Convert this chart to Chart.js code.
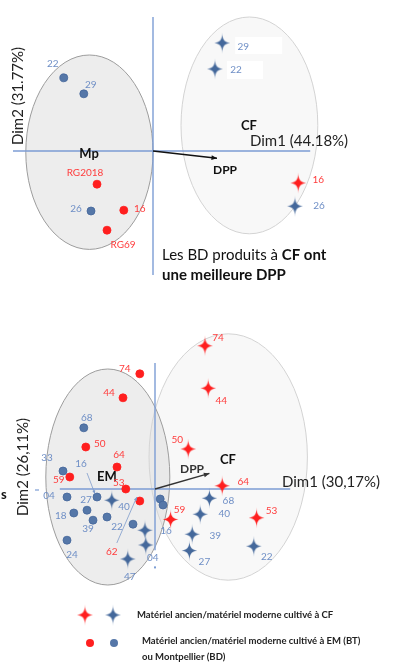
<!DOCTYPE html>
<html>
<head>
<meta charset="utf-8">
<script src="https://cdn.jsdelivr.net/npm/chart.js@4.4.1/dist/chart.umd.min.js"></script>
<style>
  html, body { margin: 0; padding: 0; background: #fff; overflow: hidden; }
  canvas { display: block; }
</style>
</head>
<body>
<canvas id="pca" width="398" height="663"></canvas>
<script>
// ---------- Upper PCA (Dim1 44.18% / Dim2 31.77%) : scores ----------
const topMpOldLabels = ['RG2018', '16', 'RG69'];
const topMpOldX = [-1.40, -0.73, -1.15];
const topMpOldY = [-0.83, -1.48, -1.98];

const topMpModernLabels = ['22', '29', '26'];
const topMpModernX = [-2.23, -1.73, -1.55];
const topMpModernY = [1.83, 1.43, -1.50];

const topCfOldLabels = ['16'];
const topCfOldX = [3.63];
const topCfOldY = [-0.80];

const topCfModernLabels = ['29', '22', '26'];
const topCfModernX = [1.73, 1.55, 3.55];
const topCfModernY = [2.70, 2.05, -1.38];

const topDppVector = [1.60, -0.18];

// ---------- Lower PCA (Dim1 30,17% / Dim2 26,11%) : scores ----------
const botEmOldLabels = ['74', '44', '50', '64', '59', '53', '62'];
const botEmOldX = [-0.38, -0.80, -1.73, -0.95, -2.13, -0.73, -0.38];
const botEmOldY = [2.88, 2.28, 1.05, 0.55, 0.30, 0.00, -0.30];

const botEmModernLabels = ['68', '33', '04', '16', '27', '18', '39', '40', '22', '24', '', ''];
const botEmModernX = [-1.78, -2.30, -2.20, -1.45, -1.70, -2.03, -1.55, -1.20, -0.55, -2.20, 0.13, 0.20];
const botEmModernY = [1.53, 0.45, -0.20, -0.20, -0.53, -0.60, -0.78, -0.70, -0.88, -1.28, -0.25, -0.40];

const botCfOldLabels = ['74', '44', '50', '64', '59', '53'];
const botCfOldX = [1.25, 1.33, 0.83, 1.68, 0.39, 2.54];
const botCfOldY = [3.58, 2.52, 1.00, 0.08, -0.76, -0.72];

const botCfModernLabels = ['', '16', '04', '47', '68', '40', '39', '27', '22'];
const botCfModernX = [-1.08, -0.25, -0.23, -0.68, 1.36, 1.13, 0.93, 0.86, 2.47];
const botCfModernY = [-0.28, -1.03, -1.40, -1.75, -0.23, -0.63, -1.13, -1.54, -1.43];

const botDppVector = [1.36, 0.39];

// Confidence ellipses per site: [centre x, centre y, radius x, radius y]
const topMpEllipse = [-1.59, -0.03, 1.59, 2.43];
const topCfEllipse = [2.41, 0.64, 1.71, 2.71];
const botEmEllipse = [-1.18, 0.30, 1.55, 2.70];
const botCfEllipse = [1.83, 0.80, 1.98, 3.08];

// ---------- styling ----------
const FONT = 'Lato, "Liberation Sans", sans-serif';
const RED = '#ff1f1f';
const RED_TEXT = '#ff3c3c';
const BLUE_STAR = '#44689b';
const BLUE_DOT = '#5577a8';
const BLUE_DOT_EDGE = '#44669a';
const BLUE_TEXT = '#6f8fc6';
const AXIS = '#7c9dd4';
const UNIT = 40; // px per score unit in both panels

// label offsets (px) relative to each marker
const topMpOldOffsets = [[-12, -11], [16, -1], [16, 15]];
const topMpModernOffsets = [[-11, -14], [7, -9], [-15, -2]];
const topCfOldOffsets = [[20, -3]];
const topCfModernOffsets = [[21, 4], [21, 1], [24, 0]];
const botEmOldOffsets = [[-15, -5], [-14, -5], [14, -3], [2, -12], [-11, 3], [-7, -6], [-28, 51]];
const botEmModernOffsets = [[3, -10], [-16, -13], [-18, -1], [-16, -33], [-1, -10], [-13, 3], [-5, 9], [17, -10], [-16, 3], [5, 15], [0, 0], [0, 0]];
const botCfOldOffsets = [[13, -8], [13, 13], [-11, -9], [21, -4], [9, -10], [15, -7]];
const botCfModernOffsets = [[0, 0], [21, 1], [7, 13], [2, 18], [19, 3], [24, 0], [23, 2], [15, 11], [13, 11]];

// leader arrows from a label to its marker: [fromDx, fromDy, toDx, toDy]
const botEmOldLeaders = { 6: [-23, 42, -3, -4] };
const botEmModernLeaders = { 3: [-10, -24, -2, -3] };
// white boxes behind some labels: [dx, dy, w, h]
const topCfModernBoxes = { 0: [13, -6, 47, 17], 1: [12, -8, 36, 18] };

function makeStar(color, r) {
  const s = Math.ceil(2 * r + 4);
  const c = document.createElement('canvas');
  c.width = s; c.height = s;
  const g = c.getContext('2d');
  g.translate(s / 2, s / 2);
  const k = r * 0.24;
  g.fillStyle = color;
  g.beginPath();
  g.moveTo(0, -r);
  g.bezierCurveTo(0, -k, k, 0, r, 0);
  g.bezierCurveTo(k, 0, 0, k, 0, r);
  g.bezierCurveTo(0, k, -k, 0, -r, 0);
  g.bezierCurveTo(-k, 0, 0, -k, 0, -r);
  g.fill();
  return c;
}
const starRed = makeStar(RED, 10.5);
const starBlue = makeStar(BLUE_STAR, 10.5);

function group(panel, kind, color, labels, xs, ys, offsets, extra) {
  const isStar = kind === 'star';
  return Object.assign({
    data: xs.map((x, i) => ({ x, y: ys[i] })),
    xAxisID: panel === 'top' ? 'xTop' : 'xBot',
    yAxisID: panel === 'top' ? 'yTop' : 'yBot',
    pointStyle: isStar ? (color === 'red' ? starRed : starBlue) : 'circle',
    pointRadius: isStar ? 10 : 4,
    backgroundColor: color === 'red' ? RED : BLUE_DOT,
    borderColor: color === 'red' ? RED : BLUE_DOT_EDGE,
    borderWidth: isStar ? 0 : 0.8,
    showLine: false,
    pointText: labels,
    textOffsets: offsets,
    textColor: color === 'red' ? RED_TEXT : BLUE_TEXT
  }, extra || {});
}

const datasets = [
  group('top', 'circle', 'red', topMpOldLabels, topMpOldX, topMpOldY, topMpOldOffsets),
  group('top', 'circle', 'blue', topMpModernLabels, topMpModernX, topMpModernY, topMpModernOffsets),
  group('top', 'star', 'red', topCfOldLabels, topCfOldX, topCfOldY, topCfOldOffsets),
  group('top', 'star', 'blue', topCfModernLabels, topCfModernX, topCfModernY, topCfModernOffsets, { boxes: topCfModernBoxes }),
  group('bot', 'star', 'blue', botCfModernLabels, botCfModernX, botCfModernY, botCfModernOffsets),
  group('bot', 'star', 'red', botCfOldLabels, botCfOldX, botCfOldY, botCfOldOffsets),
  group('bot', 'circle', 'blue', botEmModernLabels, botEmModernX, botEmModernY, botEmModernOffsets, { leaders: botEmModernLeaders }),
  group('bot', 'circle', 'red', botEmOldLabels, botEmOldX, botEmOldY, botEmOldOffsets, { leaders: botEmOldLeaders })
];

function P(chart, panel, x, y) {
  const sx = chart.scales[panel === 'top' ? 'xTop' : 'xBot'];
  const sy = chart.scales[panel === 'top' ? 'yTop' : 'yBot'];
  return [sx.getPixelForValue(x), sy.getPixelForValue(y)];
}

function ellipse(ctx, chart, panel, e, fill, stroke) {
  const [cx, cy] = P(chart, panel, e[0], e[1]);
  const [ex] = P(chart, panel, e[0] + e[2], e[1]);
  const [, ey] = P(chart, panel, e[0], e[1] + e[3]);
  ctx.beginPath();
  ctx.ellipse(cx, cy, Math.abs(ex - cx), Math.abs(cy - ey), 0, 0, Math.PI * 2);
  ctx.fillStyle = fill; ctx.fill();
  ctx.strokeStyle = stroke; ctx.lineWidth = 1; ctx.stroke();
}

function line(ctx, x1, y1, x2, y2, color, w) {
  ctx.beginPath(); ctx.moveTo(x1, y1); ctx.lineTo(x2, y2);
  ctx.strokeStyle = color; ctx.lineWidth = w; ctx.stroke();
}

function arrow(ctx, x1, y1, x2, y2, color, w, head) {
  line(ctx, x1, y1, x2, y2, color, w);
  const a = Math.atan2(y2 - y1, x2 - x1);
  ctx.beginPath();
  ctx.moveTo(x2, y2);
  ctx.lineTo(x2 - head * Math.cos(a - 0.4), y2 - head * Math.sin(a - 0.4));
  ctx.lineTo(x2 - head * Math.cos(a + 0.4), y2 - head * Math.sin(a + 0.4));
  ctx.closePath();
  ctx.fillStyle = color; ctx.fill();
}

function text(ctx, s, x, y, size, color, weight, align) {
  ctx.font = (weight || 'normal') + ' ' + size + 'px ' + FONT;
  ctx.fillStyle = color;
  ctx.textAlign = align || 'center';
  ctx.textBaseline = 'middle';
  ctx.fillText(s, x, y);
}

function vtext(ctx, s, x, y, size, color) {
  ctx.save();
  ctx.translate(x, y);
  ctx.rotate(-Math.PI / 2);
  text(ctx, s, 0, 0, size, color);
  ctx.restore();
}

const decor = {
  id: 'pcaDecor',
  beforeDatasetsDraw(chart) {
    const ctx = chart.ctx;
    ctx.save();
    // ellipses
    ellipse(ctx, chart, 'top', topCfEllipse, 'rgba(235,235,235,0.35)', '#d3d3d3');
    ellipse(ctx, chart, 'top', topMpEllipse, 'rgba(215,215,215,0.45)', '#9c9c9c');
    ellipse(ctx, chart, 'bot', botCfEllipse, 'rgba(235,235,235,0.35)', '#d3d3d3');
    ellipse(ctx, chart, 'bot', botEmEllipse, 'rgba(215,215,215,0.45)', '#9c9c9c');

    // axes of the upper panel
    let a = P(chart, 'top', -3.5, 0), b = P(chart, 'top', 3.93, 0);
    line(ctx, a[0], a[1], b[0], b[1], AXIS, 1.4);
    a = P(chart, 'top', 0, 3.35); b = P(chart, 'top', 0, -3.1);
    line(ctx, a[0], a[1], b[0], b[1], AXIS, 1.4);
    // axes of the lower panel
    a = P(chart, 'bot', -2.38, 0); b = P(chart, 'bot', 3.38, 0);
    line(ctx, a[0], a[1], b[0], b[1], AXIS, 1.4);
    a = P(chart, 'bot', 0, 3.15); b = P(chart, 'bot', 0, -1.53);
    line(ctx, a[0], a[1], b[0], b[1], AXIS, 1.4);
    a = P(chart, 'bot', 0, -1.96);
    ctx.fillStyle = AXIS; ctx.fillRect(a[0] - 1, a[1] - 1, 2, 2);
    line(ctx, 35, 490, 39, 490, AXIS, 1.2);

    // DPP vectors
    a = P(chart, 'top', 0, 0); b = P(chart, 'top', topDppVector[0], topDppVector[1]);
    arrow(ctx, a[0], a[1], b[0], b[1], '#111', 1.5, 6);
    a = P(chart, 'bot', 0, 0); b = P(chart, 'bot', botDppVector[0], botDppVector[1]);
    arrow(ctx, a[0], a[1], b[0], b[1], '#333', 1.5, 6);

    // panel texts
    text(ctx, 'Mp', 89, 154, 13, '#111', 'bold');
    text(ctx, 'CF', 249, 126, 13, '#111', 'bold');
    text(ctx, 'DPP', 225, 170, 12, '#111', 'bold');
    text(ctx, 'Dim1 (44.18%)', 250, 141, 15, '#222', 'normal', 'left');
    vtext(ctx, 'Dim2 (31.77%)', 18, 96, 15, '#222');

    text(ctx, 'EM', 107, 477, 13, '#111', 'bold');
    text(ctx, 'CF', 228, 460, 13, '#111', 'bold');
    text(ctx, 'DPP', 192, 469, 12, '#333', 'bold');
    text(ctx, 'Dim1 (30,17%)', 282, 482, 15, '#222', 'normal', 'left');
    vtext(ctx, 'Dim2 (26,11%)', 23, 467, 15, '#222');
    text(ctx, 's', 1, 495, 13, '#111', 'bold', 'left');

    // conclusion note
    ctx.font = 'normal 15px ' + FONT;
    ctx.textAlign = 'left'; ctx.textBaseline = 'middle'; ctx.fillStyle = '#111';
    const lead = 'Les BD produits à ';
    ctx.fillText(lead, 162, 255);
    const w = ctx.measureText(lead).width;
    ctx.font = 'bold 15px ' + FONT;
    ctx.fillText('CF ont', 162 + w, 255);
    ctx.fillText('une meilleure DPP', 162, 275);
    ctx.restore();
  },
  afterDatasetsDraw(chart) {
    const ctx = chart.ctx;
    ctx.save();
    chart.data.datasets.forEach((ds, i) => {
      const meta = chart.getDatasetMeta(i);
      meta.data.forEach((el, j) => {
        const t = ds.pointText[j];
        if (!t) return;
        const [dx, dy] = ds.textOffsets[j];
        if (ds.boxes && ds.boxes[j]) {
          const bx = ds.boxes[j];
          ctx.fillStyle = '#fff';
          ctx.fillRect(el.x + bx[0], el.y + bx[1], bx[2], bx[3]);
        }
        if (ds.leaders && ds.leaders[j]) {
          const l = ds.leaders[j];
          arrow(ctx, el.x + l[0], el.y + l[1], el.x + l[2], el.y + l[3], '#7f9ccb', 0.8, 4);
        }
        text(ctx, t, el.x + dx, el.y + dy, 10, ds.textColor, 'normal');
      });
    });
    ctx.restore();
  },
  afterDraw(chart) {
    const ctx = chart.ctx;
    ctx.save();
    // key
    ctx.drawImage(starRed, 85 - starRed.width / 2, 615 - starRed.height / 2);
    ctx.drawImage(starBlue, 113 - starBlue.width / 2, 615 - starBlue.height / 2);
    text(ctx, 'Matériel ancien/matériel moderne cultivé à CF', 137, 615, 9.5, '#222', 'bold', 'left');
    ctx.beginPath(); ctx.arc(90, 643, 4, 0, Math.PI * 2); ctx.fillStyle = RED; ctx.fill();
    ctx.beginPath(); ctx.arc(114, 643, 4, 0, Math.PI * 2); ctx.fillStyle = BLUE_DOT; ctx.fill();
    text(ctx, 'Matériel ancien/matériel moderne cultivé à EM (BT)', 142, 641, 9.5, '#222', 'bold', 'left');
    text(ctx, 'ou Montpellier (BD)', 142, 657, 9.5, '#222', 'bold', 'left');
    ctx.restore();
  }
};

const W = 398, H = 663;
new Chart(document.getElementById('pca'), {
  type: 'scatter',
  data: { datasets },
  options: {
    responsive: false,
    animation: false,
    devicePixelRatio: 1,
    events: [],
    layout: { padding: 0, autoPadding: false },
    plugins: { legend: { display: false }, tooltip: { enabled: false }, title: { display: false } },
    scales: {
      x: { display: false },
      y: { display: false },
      xTop: { type: 'linear', display: false, min: -153 / UNIT, max: (W - 153) / UNIT },
      yTop: { type: 'linear', display: false, min: -(H - 151) / UNIT, max: 151 / UNIT },
      xBot: { type: 'linear', display: false, min: -155 / UNIT, max: (W - 155) / UNIT },
      yBot: { type: 'linear', display: false, min: -(H - 489) / UNIT, max: 489 / UNIT }
    }
  },
  plugins: [decor]
});
</script>
</body>
</html>
